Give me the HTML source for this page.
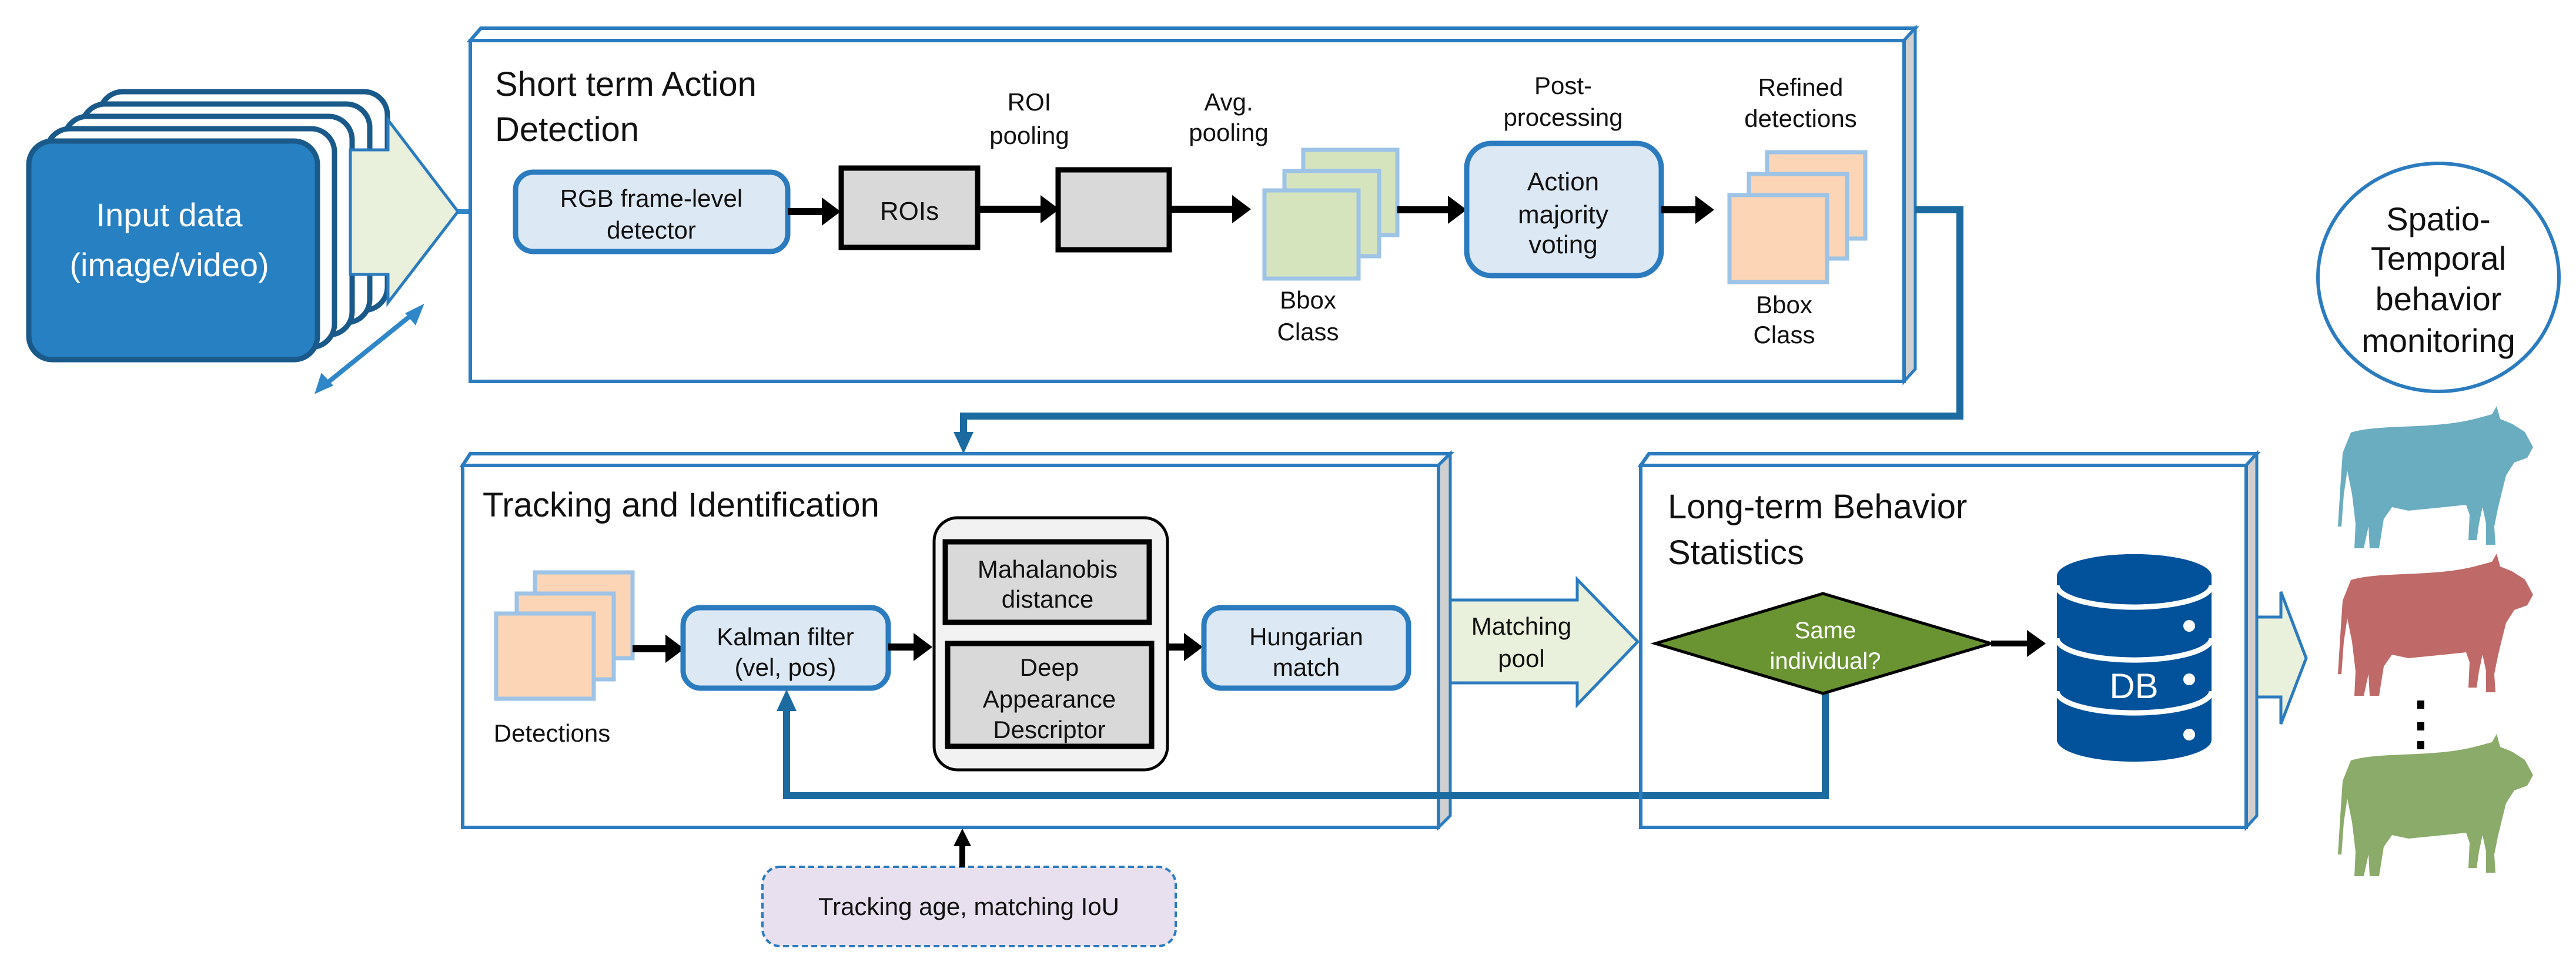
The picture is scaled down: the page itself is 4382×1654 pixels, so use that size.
<!DOCTYPE html>
<html><head><meta charset="utf-8"><style>
html,body{margin:0;padding:0;background:#fff}
svg{display:block}
text{font-family:"Liberation Sans",sans-serif;fill:#111}
</style></head><body>
<svg width="4382" height="1654" viewBox="0 0 4382 1654" xmlns="http://www.w3.org/2000/svg">

<!-- ===== Input stack ===== -->
<g stroke="#1a5a8a" stroke-width="9">
<rect x="169" y="156" width="490" height="372" rx="40" fill="#fff"/>
<rect x="139" y="177" width="490" height="372" rx="40" fill="#fff"/>
<rect x="109" y="198" width="490" height="372" rx="40" fill="#fff"/>
<rect x="79" y="219" width="490" height="372" rx="40" fill="#fff"/>
<rect x="49" y="240" width="491" height="372" rx="40" fill="#2680c2"/>
</g>
<text x="288" y="385" font-size="56" text-anchor="middle" style="fill:#fff">Input data</text>
<text x="288" y="470" font-size="56" text-anchor="middle" style="fill:#fff">(image/video)</text>
<path d="M596,255 L660,255 L660,204 L779,360 L660,515 L660,467 L596,467 Z" fill="#e9f0dc" stroke="#2b7bbf" stroke-width="5"/>
<line x1="550" y1="657" x2="706" y2="531" stroke="#2f87c8" stroke-width="8"/>
<path d="M540,665 L548,640 L562,655 Z" fill="#2f87c8" stroke="#2f87c8" stroke-width="6"/>
<path d="M716,523 L706,548 L694,534 Z" fill="#2f87c8" stroke="#2f87c8" stroke-width="6"/>
<line x1="779" y1="360" x2="850" y2="360" stroke="#2f87c8" stroke-width="8"/>
<path d="M842,335 L873,360 L842,385 Z" fill="#2f87c8"/>

<!-- ===== Short term box ===== -->
<path d="M800,69 L818,48 L3258,48 L3239,69 Z" fill="#fff" stroke="#2b7bbf" stroke-width="6"/>
<path d="M3239,69 L3258,48 L3258,628 L3239,649 Z" fill="#d0d0d0" stroke="#2b7bbf" stroke-width="5"/>
<rect x="800" y="69" width="2439" height="580" fill="#fff" stroke="#2b7bbf" stroke-width="6"/>
<text x="842" y="163" font-size="58">Short term Action</text>
<text x="842" y="240" font-size="58">Detection</text>

<rect x="877" y="293" width="463" height="135" rx="30" fill="#dce8f4" stroke="#2b7bbf" stroke-width="9"/>
<text x="1108" y="352" font-size="42" text-anchor="middle">RGB frame-level</text>
<text x="1108" y="406" font-size="42" text-anchor="middle">detector</text>
<line x1="1340" y1="360" x2="1400" y2="360" stroke="#000" stroke-width="12"/>
<path d="M1398,336 L1430,360 L1398,384 Z" fill="#000"/>
<rect x="1431" y="286" width="232" height="135" fill="#d9d9d9" stroke="#000" stroke-width="9"/>
<text x="1547" y="374" font-size="44" text-anchor="middle">ROIs</text>
<line x1="1663" y1="356" x2="1772" y2="356" stroke="#000" stroke-width="12"/>
<path d="M1770,332 L1802,356 L1770,380 Z" fill="#000"/>
<rect x="1800" y="289" width="189" height="136" fill="#d9d9d9" stroke="#000" stroke-width="9"/>
<text x="1751" y="188" font-size="42" text-anchor="middle">ROI</text>
<text x="1751" y="245" font-size="42" text-anchor="middle">pooling</text>
<text x="2090" y="188" font-size="42" text-anchor="middle">Avg.</text>
<text x="2090" y="240" font-size="42" text-anchor="middle">pooling</text>
<line x1="1989" y1="356" x2="2098" y2="356" stroke="#000" stroke-width="12"/>
<path d="M2096,332 L2128,356 L2096,380 Z" fill="#000"/>

<g fill="#d5e4bd" stroke="#9dc3e6" stroke-width="7">
<rect x="2217" y="255" width="160" height="145"/>
<rect x="2185" y="291" width="161" height="145"/>
<rect x="2151" y="324" width="160" height="150"/>
</g>
<text x="2225" y="525" font-size="42" text-anchor="middle">Bbox</text>
<text x="2225" y="579" font-size="42" text-anchor="middle">Class</text>
<line x1="2377" y1="357" x2="2465" y2="357" stroke="#000" stroke-width="12"/>
<path d="M2463,333 L2495,357 L2463,381 Z" fill="#000"/>
<rect x="2495" y="244" width="331" height="225" rx="42" fill="#dce8f4" stroke="#2b7bbf" stroke-width="9"/>
<text x="2659" y="324" font-size="44" text-anchor="middle">Action</text>
<text x="2659" y="380" font-size="44" text-anchor="middle">majority</text>
<text x="2659" y="431" font-size="44" text-anchor="middle">voting</text>
<text x="2659" y="160" font-size="42" text-anchor="middle">Post-</text>
<text x="2659" y="214" font-size="42" text-anchor="middle">processing</text>
<line x1="2826" y1="357" x2="2886" y2="357" stroke="#000" stroke-width="12"/>
<path d="M2884,333 L2916,357 L2884,381 Z" fill="#000"/>
<g fill="#fbd5b5" stroke="#9dc3e6" stroke-width="7">
<rect x="3006" y="259" width="167" height="147"/>
<rect x="2975" y="296" width="167" height="144"/>
<rect x="2942" y="332" width="166" height="148"/>
</g>
<text x="3063" y="163" font-size="42" text-anchor="middle">Refined</text>
<text x="3063" y="216" font-size="42" text-anchor="middle">detections</text>
<text x="3035" y="533" font-size="42" text-anchor="middle">Bbox</text>
<text x="3035" y="584" font-size="42" text-anchor="middle">Class</text>

<!-- connector to tracking -->
<path d="M3258,357 L3334,357 L3334,708 L1639,708 L1639,740" fill="none" stroke="#1b6aa0" stroke-width="12"/>
<path d="M1622,735 L1656,735 L1639,772 Z" fill="#1b6aa0"/>

<!-- circle -->
<ellipse cx="4148" cy="472" rx="205" ry="194" fill="#fff" stroke="#2b7bbf" stroke-width="6"/>
<text x="4148" y="392" font-size="56" text-anchor="middle">Spatio-</text>
<text x="4148" y="459" font-size="56" text-anchor="middle">Temporal</text>
<text x="4148" y="528" font-size="56" text-anchor="middle">behavior</text>
<text x="4148" y="599" font-size="56" text-anchor="middle">monitoring</text>

<!-- ===== Tracking box ===== -->
<path d="M787,792 L800,772 L2467,772 L2447,792 Z" fill="#fff" stroke="#2b7bbf" stroke-width="6"/>
<path d="M2447,792 L2467,772 L2467,1388 L2447,1408 Z" fill="#d0d0d0" stroke="#2b7bbf" stroke-width="5"/>
<rect x="787" y="792" width="1660" height="616" fill="#fff" stroke="#2b7bbf" stroke-width="6"/>
<text x="821" y="879" font-size="58">Tracking and Identification</text>
<g fill="#fbd5b5" stroke="#9dc3e6" stroke-width="7">
<rect x="910" y="974" width="166" height="146"/>
<rect x="879" y="1010" width="165" height="146"/>
<rect x="844" y="1044" width="166" height="145"/>
</g>
<text x="939" y="1262" font-size="42" text-anchor="middle">Detections</text>
<line x1="1076" y1="1104" x2="1134" y2="1104" stroke="#000" stroke-width="12"/>
<path d="M1132,1080 L1164,1104 L1132,1128 Z" fill="#000"/>
<rect x="1162" y="1034" width="349" height="137" rx="30" fill="#dce8f4" stroke="#2b7bbf" stroke-width="9"/>
<text x="1336" y="1098" font-size="42" text-anchor="middle">Kalman filter</text>
<text x="1336" y="1150" font-size="42" text-anchor="middle">(vel, pos)</text>
<line x1="1511" y1="1101" x2="1556" y2="1101" stroke="#000" stroke-width="12"/>
<path d="M1554,1077 L1586,1101 L1554,1125 Z" fill="#000"/>
<rect x="1589" y="881" width="397" height="429" rx="40" fill="#f2f2f2" stroke="#000" stroke-width="5"/>
<rect x="1608" y="922" width="347" height="137" fill="#d9d9d9" stroke="#000" stroke-width="9"/>
<text x="1782" y="983" font-size="42" text-anchor="middle">Mahalanobis</text>
<text x="1782" y="1034" font-size="42" text-anchor="middle">distance</text>
<rect x="1612" y="1095" width="347" height="175" fill="#d9d9d9" stroke="#000" stroke-width="9"/>
<text x="1785" y="1150" font-size="42" text-anchor="middle">Deep</text>
<text x="1785" y="1204" font-size="42" text-anchor="middle">Appearance</text>
<text x="1785" y="1256" font-size="42" text-anchor="middle">Descriptor</text>
<line x1="1986" y1="1101" x2="2016" y2="1101" stroke="#000" stroke-width="12"/>
<path d="M2014,1077 L2046,1101 L2014,1125 Z" fill="#000"/>
<rect x="2048" y="1034" width="348" height="137" rx="30" fill="#dce8f4" stroke="#2b7bbf" stroke-width="9"/>
<text x="2222" y="1098" font-size="42" text-anchor="middle">Hungarian</text>
<text x="2222" y="1150" font-size="42" text-anchor="middle">match</text>

<!-- feedback line -->
<path d="M3105,1180 L3105,1354 L1338,1354 L1338,1205" fill="none" stroke="#1b6aa0" stroke-width="12"/>
<path d="M1321,1210 L1355,1210 L1338,1173 Z" fill="#1b6aa0"/>

<!-- tracking age -->
<rect x="1297" y="1475" width="703" height="135" rx="30" fill="#e8e0ef" stroke="#2b7bbf" stroke-width="4" stroke-dasharray="10,6"/>
<text x="1648" y="1557" font-size="42" text-anchor="middle">Tracking age, matching IoU</text>
<line x1="1637" y1="1475" x2="1637" y2="1435" stroke="#000" stroke-width="10"/>
<path d="M1622,1440 L1652,1440 L1637,1410 Z" fill="#000"/>

<!-- matching pool arrow -->
<path d="M2467,1021 L2683,1021 L2683,986 L2786,1092 L2683,1199 L2683,1162 L2467,1162 Z" fill="#e9f0dc" stroke="#2b7bbf" stroke-width="5"/>
<text x="2588" y="1080" font-size="42" text-anchor="middle">Matching</text>
<text x="2588" y="1135" font-size="42" text-anchor="middle">pool</text>

<!-- ===== Long-term box ===== -->
<path d="M2791,792 L2805,772 L3839,772 L3821,792 Z" fill="#fff" stroke="#2b7bbf" stroke-width="6"/>
<path d="M3821,792 L3839,772 L3839,1388 L3821,1408 Z" fill="#d0d0d0" stroke="#2b7bbf" stroke-width="5"/>
<rect x="2791" y="792" width="1030" height="616" fill="none" stroke="#2b7bbf" stroke-width="6"/>
<rect x="2794" y="795" width="1024" height="556" fill="#fff"/>
<path d="M3105,1180 L3105,1354 L2794,1354" fill="none" stroke="#1b6aa0" stroke-width="12"/>
<text x="2837" y="882" font-size="58">Long-term Behavior</text>
<text x="2837" y="960" font-size="58">Statistics</text>
<path d="M2816,1095 L3101,1010 L3387,1095 L3101,1180 Z" fill="#6a9331" stroke="#000" stroke-width="5"/>
<text x="3105" y="1086" font-size="40" text-anchor="middle" style="fill:#fff">Same</text>
<text x="3105" y="1138" font-size="40" text-anchor="middle" style="fill:#fff">individual?</text>
<line x1="3387" y1="1095" x2="3450" y2="1095" stroke="#000" stroke-width="10"/>
<path d="M3448,1072 L3480,1095 L3448,1118 Z" fill="#000"/>

<!-- DB -->
<path d="M3499,980 A131,37 0 0 1 3762,980 L3762,1259 A131,37 0 0 1 3499,1259 Z" fill="#02529b"/>
<g fill="none" stroke="#fff" stroke-width="9">
<path d="M3499,996 A131,37 0 0 0 3762,996"/>
<path d="M3499,1086 A131,37 0 0 0 3762,1086"/>
<path d="M3499,1176 A131,37 0 0 0 3762,1176"/>
</g>
<circle cx="3724" cy="1065" r="10" fill="#fff"/>
<circle cx="3724" cy="1156" r="10" fill="#fff"/>
<circle cx="3724" cy="1250" r="10" fill="#fff"/>
<text x="3630" y="1188" font-size="60" text-anchor="middle" style="fill:#fff">DB</text>

<!-- output arrow -->
<path d="M3839,1050 L3880,1050 L3880,1007 L3923,1120 L3880,1232 L3880,1186 L3839,1186 Z" fill="#e9f0dc" stroke="#2b7bbf" stroke-width="5"/>

<!-- cows -->
<defs>
<path id="cow" d="M22,45 C70,30 160,40 232,22 L262,14 L270,0 L276,22 L296,30 L318,44 L332,70 L322,88 L300,96 L286,118 L278,150 L272,175 L266,205 L268,236 L252,236 L252,200 L246,172 L240,200 L236,228 L222,228 L224,185 L218,168 L180,172 L120,178 L92,172 L78,192 L70,242 L54,242 L52,205 L44,242 L28,242 L30,200 L24,150 L16,110 L10,150 L6,205 L0,205 L4,140 L8,80 Z"/>
</defs>
<use href="#cow" x="3977" y="691" fill="#6aadc0"/>
<use href="#cow" x="3977" y="942" fill="#bf6a68"/>
<use href="#cow" x="3977" y="1249" fill="#8bab6a"/>
<rect x="4112" y="1192" width="12" height="14" fill="#000"/>
<rect x="4112" y="1229" width="12" height="14" fill="#000"/>
<rect x="4112" y="1261" width="12" height="14" fill="#000"/>
</svg>
</body></html>
